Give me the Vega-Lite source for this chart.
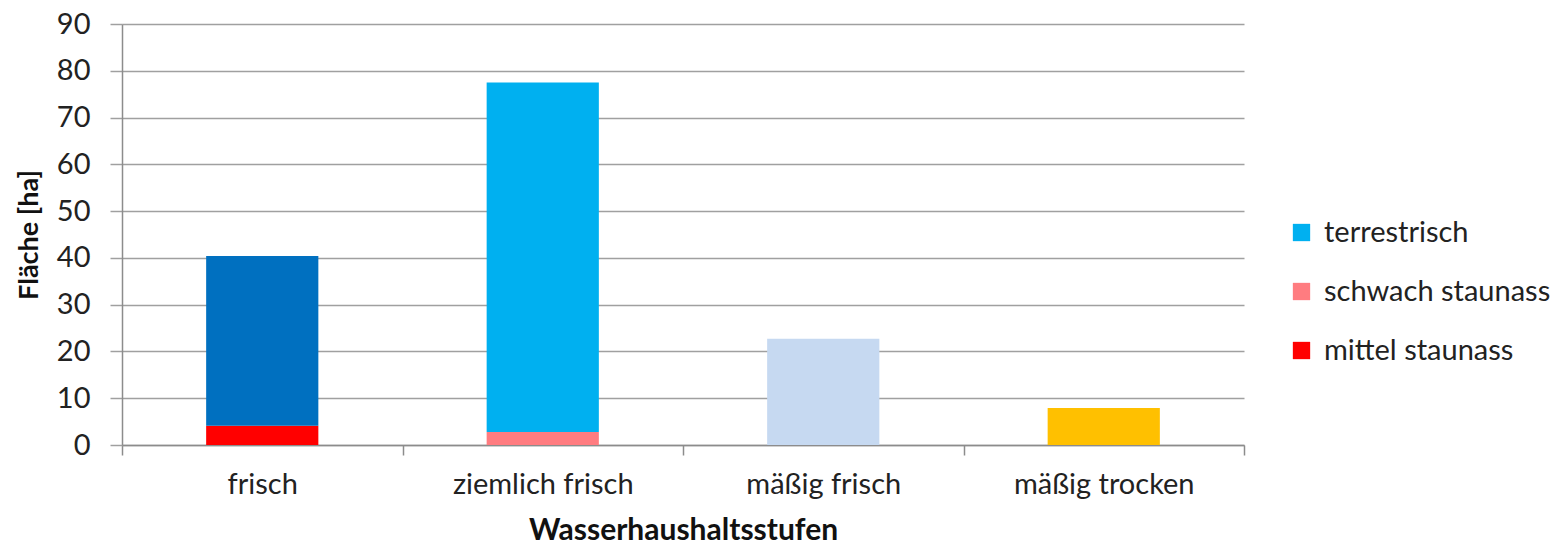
{
  "$schema": "https://vega.github.io/schema/vega-lite/v6.json",
  "width": 1122,
  "height": 421,
  "autosize": {"type": "none"},
  "padding": {"left": 122, "top": 24, "right": 318, "bottom": 105},
  "background": "white",
  "config": {
    "font": "Lato",
    "view": {"stroke": null}
  },
  "data": {
    "values": [
      {"stufe": "frisch", "kategorie": "mittel staunass", "reihe": 1, "flaeche": 4.1},
      {"stufe": "frisch", "kategorie": "terrestrisch (frisch)", "reihe": 2, "flaeche": 36.3},
      {"stufe": "ziemlich frisch", "kategorie": "schwach staunass", "reihe": 1, "flaeche": 2.8},
      {"stufe": "ziemlich frisch", "kategorie": "terrestrisch", "reihe": 2, "flaeche": 74.7},
      {"stufe": "mäßig frisch", "kategorie": "terrestrisch (mäßig frisch)", "reihe": 2, "flaeche": 22.7},
      {"stufe": "mäßig trocken", "kategorie": "terrestrisch (mäßig trocken)", "reihe": 2, "flaeche": 7.9}
    ]
  },
  "mark": {"type": "bar", "width": {"band": 0.4}},
  "encoding": {
    "x": {
      "field": "stufe",
      "type": "nominal",
      "sort": ["frisch", "ziemlich frisch", "mäßig frisch", "mäßig trocken"],
      "scale": {"paddingInner": 0, "paddingOuter": 0},
      "axis": {
        "title": "Wasserhaushaltsstufen",
        "titleFontSize": 30,
        "titleFontWeight": "bold",
        "titleColor": "#111111",
        "titlePadding": 16,
        "labelAngle": 0,
        "labelFontSize": 29,
        "labelColor": "#222222",
        "labelPadding": 15,
        "labelLimit": 400,
        "tickBand": "extent",
        "tickSize": 10,
        "tickColor": "#8c8c8c",
        "tickWidth": 1.5,
        "domainColor": "#8c8c8c",
        "domainWidth": 1.5,
        "grid": false
      }
    },
    "y": {
      "field": "flaeche",
      "type": "quantitative",
      "stack": "zero",
      "scale": {"domain": [0, 90], "nice": false},
      "axis": {
        "title": "Fläche [ha]",
        "titleFontSize": 27,
        "titleFontWeight": "bold",
        "titleColor": "#111111",
        "titlePadding": 13,
        "values": [0, 10, 20, 30, 40, 50, 60, 70, 80, 90],
        "labelFontSize": 29,
        "labelColor": "#222222",
        "labelPadding": 20,
        "tickSize": 12,
        "tickColor": "#a0a0a0",
        "tickWidth": 1.5,
        "grid": true,
        "gridColor": "#a0a0a0",
        "gridWidth": 1.5,
        "domainColor": "#8c8c8c",
        "domainWidth": 1.5
      }
    },
    "order": {"field": "reihe", "type": "quantitative"},
    "color": {
      "field": "kategorie",
      "type": "nominal",
      "scale": {
        "domain": ["terrestrisch", "schwach staunass", "mittel staunass", "terrestrisch (frisch)", "terrestrisch (mäßig frisch)", "terrestrisch (mäßig trocken)"],
        "range": ["#00B0F0", "#FF7C80", "#FF0000", "#0070C0", "#C6D9F1", "#FFC000"]
      },
      "legend": {
        "title": null,
        "values": ["terrestrisch", "schwach staunass", "mittel staunass"],
        "orient": "none",
        "legendX": 1165,
        "legendY": 194,
        "symbolType": "square",
        "symbolSize": 300,
        "symbolStrokeWidth": 0,
        "labelFontSize": 29,
        "labelColor": "#222222",
        "labelOffset": 8,
        "rowPadding": 29,
        "labelLimit": 400
      }
    }
  }
}
